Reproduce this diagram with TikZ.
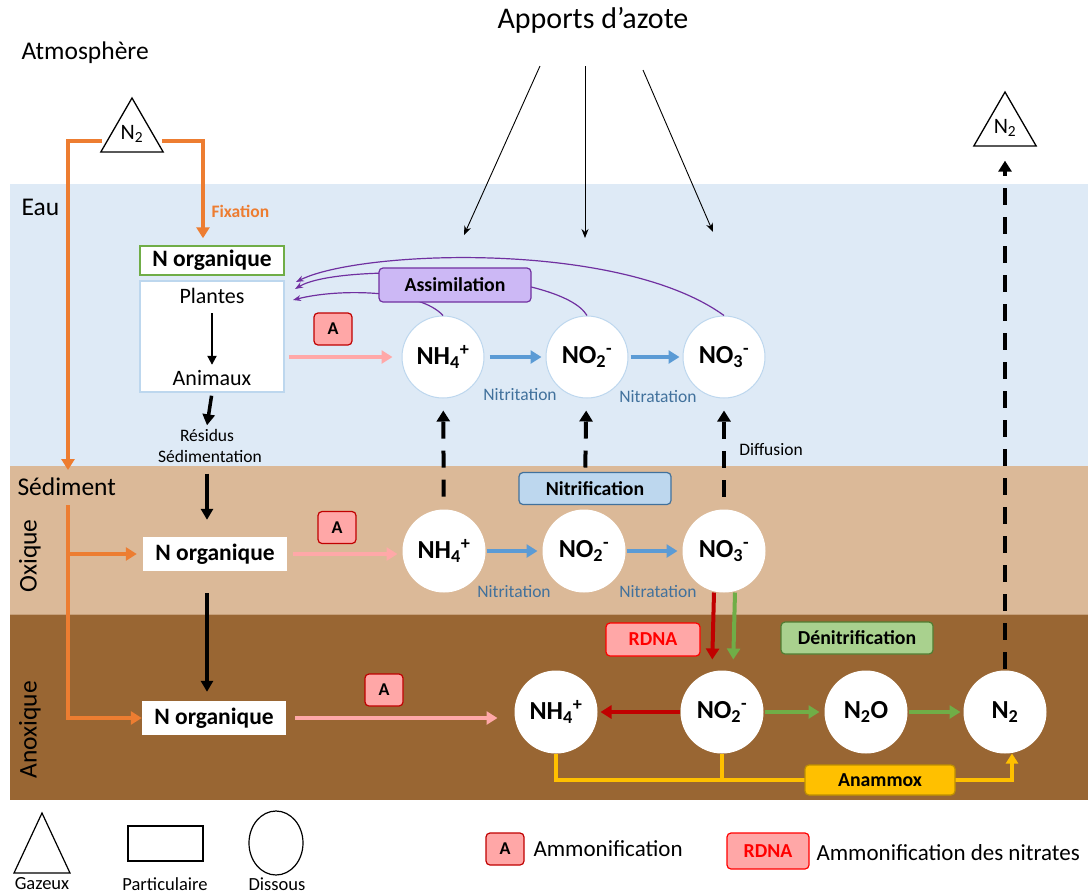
\documentclass[tikz,border=0pt]{standalone}
\usepackage{fontspec}
\setmainfont{Carlito}
\usetikzlibrary{arrows.meta,shapes.geometric,positioning}

\definecolor{eaubleu}{HTML}{DEEAF6}
\definecolor{sedoxi}{HTML}{DBB998}
\definecolor{sedanoxi}{HTML}{996633}
\definecolor{orangefix}{HTML}{ED7D31}
\definecolor{bordbleu}{HTML}{BDD7EE}
\definecolor{flechebleu}{HTML}{5B9BD5}
\definecolor{textebleu}{HTML}{41719C}
\definecolor{roseA}{HTML}{FFA7A7}
\definecolor{roseflèche}{HTML}{FFA8A8}
\definecolor{rougefonce}{HTML}{C00000}
\definecolor{vertden}{HTML}{70AD47}
\definecolor{vertboite}{HTML}{A9D18E}
\definecolor{vertbord}{HTML}{507E32}
\definecolor{assimviolet}{HTML}{7030A0}
\definecolor{assimclair}{HTML}{CCB8F5}
\definecolor{jauneanam}{HTML}{FFC000}
\definecolor{jaunebord}{HTML}{BF9000}

\newcommand{\taille}[1]{\fontsize{#1}{#1}\selectfont}
\newcommand{\ammonium}{NH\textsubscript{4}\textsuperscript{+}}
\newcommand{\nitrite}{NO\textsubscript{2}\textsuperscript{-}}
\newcommand{\nitrate}{NO\textsubscript{3}\textsuperscript{-}}
\newcommand{\protoxyde}{N\textsubscript{2}O}
\newcommand{\diazote}{N\textsubscript{2}}

\begin{document}
\begin{tikzpicture}[x=1pt, y=-1pt,
    boite/.style={rounded corners=4pt, line width=1.2pt, font=\taille{19.8}\bfseries,
      minimum width=152pt, minimum height=32pt, inner sep=0pt},
    ammon/.style={draw=rougefonce, fill=roseA, rounded corners=4pt, line width=1.2pt,
      font=\taille{18}\bfseries, minimum width=38pt, minimum height=32pt, inner sep=0pt},
    dissous/.style={circle, fill=white, line width=1pt, minimum size=82pt, inner sep=0pt,
      font=\taille{26}\bfseries},
    norg/.style={fill=white, minimum width=144pt, minimum height=34pt, inner sep=0pt,
      font=\taille{23.5}\bfseries},
    gaz/.style={regular polygon, regular polygon sides=3, draw, fill=white, line width=1.3pt,
      minimum size=72pt, inner sep=0pt, font=\taille{22}},
    fix/.style={orangefix, line width=4pt, -{Triangle[length=11pt,width=13pt]}},
    noir/.style={line width=3.5pt, -{Triangle[length=11pt,width=12pt]}},
    diff/.style={line width=4pt, dash pattern=on 17pt off 12pt, -{Triangle[length=11pt,width=13pt]}},
    bleufl/.style={flechebleu, line width=4pt, -{Triangle[length=11pt,width=13pt]}},
    rosefl/.style={roseflèche, line width=4pt, -{Triangle[length=11pt,width=13pt]}},
    rougefl/.style={rougefonce, line width=4pt, -{Triangle[length=11pt,width=13pt]}},
    vertfl/.style={vertden, line width=4pt, -{Triangle[length=11pt,width=13pt]}},
    jaunefl/.style={jauneanam, line width=3.5pt},
    assim/.style={assimviolet, line width=1.2pt, -{Stealth[length=8pt,width=6pt]}},
    proc/.style={text=textebleu, font=\taille{17.5}},
    titre/.style={font=\taille{25.5}},
    legende/.style={font=\taille{18.5}, inner sep=0pt}]
  \useasboundingbox (0,0) rectangle (1088,895);

  % Couches : eau, sediment oxique, sediment anoxique
  \fill[eaubleu] (10,184) rectangle (1088,466);
  \fill[sedoxi] (10,466) rectangle (1088,614);
  \fill[sedanoxi] (10,614) rectangle (1088,800);
  \draw[sedoxi!70!sedanoxi, line width=1pt] (10,614) -- (1088,614);

  % Titres
  \node[font=\taille{30}] (apports) at (593,20) {Apports d’azote};
  \node[titre, anchor=west] (atmo) at (18,53) {Atmosphère};
  \node[titre, anchor=west] (eau) at (18,207) {Eau};
  \node[titre, anchor=west] (sediment) at (14,487) {Sédiment};
  \node[titre, rotate=90] (oxique) at (30,556) {Oxique};
  \node[titre, rotate=90] (anoxique) at (30,730) {Anoxique};

  % Apports d'azote
  \coordinate (app1) at (540,66);
  \coordinate (app2) at (585,66);
  \coordinate (app3) at (643,70);
  \coordinate (cible1) at (464,235);
  \coordinate (cible2) at (585,238);
  \coordinate (cible3) at (713,232);
  \foreach \i in {1,2,3}
    \draw[line width=0.9pt, -{Stealth[length=9pt,width=7pt]}] (app\i) -- (cible\i);

  % Diazote atmospherique
  \node[gaz] (n2atm) at (132,134) {\diazote};
  \node[gaz] (n2atmd) at (1005,128) {\diazote};
  \path (n2atm.corner 1) -- (n2atm.corner 2) coordinate[pos=0.8] (bordG);
  \path (n2atm.corner 1) -- (n2atm.corner 3) coordinate[pos=0.8] (bordD);

  % Compartiment organique
  \node[norg, draw=vertden, line width=1.5pt, minimum height=29pt] (norgeau) at (212,260.5) {N organique};
  \node[draw=bordbleu, fill=white, line width=1.5pt, minimum width=144pt, minimum height=111pt] (vivant) at (212,336.5) {};
  \node[font=\taille{22}] (plantes) at (212,296) {Plantes};
  \node[font=\taille{22}] (animaux) at (212,378) {Animaux};
  \node[font=\taille{17.5}] (residus) at (207,435) {Résidus};
  \node[font=\taille{17.5}] (sedim) at (210,456) {Sédimentation};
  \node[norg] (norgox) at (215,554) {N organique};
  \node[norg] (norgan) at (214,718) {N organique};

  \draw[line width=2pt, -{Triangle[length=9pt,width=9pt]}, shorten <=6pt, shorten >=2pt] (plantes) -- (animaux);
  \draw[noir, shorten <=3pt] (vivant.south) -- (residus.north);
  \draw[noir, shorten <=8pt, shorten >=17pt] ([xshift=-8pt]norgox.north |- sedim.south) -- ([xshift=-8pt]norgox.north);
  \draw[noir, shorten <=22pt, shorten >=9pt] ([xshift=-8pt]norgox.south) -- ([xshift=-8pt]norgox.south |- norgan.north);

  % Fixation
  \coordinate (arriveesed) at (68,470);
  \coordinate (departsed) at (68,505);
  \draw[fix, shorten <=4pt] (bordG) -| (arriveesed);
  \draw[fix, shorten <=4pt, shorten >=7pt] (bordD) -| ([xshift=-9pt]norgeau.north);
  \node[font=\taille{17.5}\bfseries, text=orangefix, anchor=west] (fixation) at (208,211) {Fixation};
  \draw[fix] (departsed) |- (norgan.west);
  \draw[fix, shorten >=6pt] (departsed |- norgox.west) -- (norgox.west);

  % Formes dissoutes
  \foreach \nom/\x/\chimie in {nh4e/443/\ammonium, no2e/587/\nitrite, no3e/724/\nitrate}
    \node[dissous, draw=bordbleu] (\nom) at (\x,357) {\chimie};
  \foreach \nom/\x/\chimie in {nh4o/444/\ammonium, no2o/584/\nitrite, no3o/724/\nitrate}
    \node[dissous, draw=white] (\nom) at (\x,551) {\chimie};
  \foreach \nom/\x/\chimie in {nh4a/556/\ammonium, no2a/722/\nitrite, n2oa/866/\protoxyde, n2a/1005/\diazote}
    \node[dissous, draw=white] (\nom) at (\x,712) {\chimie};

  % Ammonification
  \draw[rosefl, shorten <=4pt, shorten >=9pt] (vivant.east |- nh4e) -- (nh4e.west);
  \draw[rosefl, shorten <=6pt, shorten >=5pt] (norgox.east) -- (norgox.east -| nh4o.west);
  \draw[rosefl, shorten <=9pt, shorten >=17pt] (norgan.east) -- (norgan.east -| nh4a.west);
  \node[ammon] (aeau) at (333,329) {A};
  \node[ammon] (aox) at (337,527.5) {A};
  \node[ammon] (aan) at (384,690) {A};

  % Nitrification
  \draw[bleufl, shorten <=5pt, shorten >=4pt] (nh4e) -- (no2e);
  \draw[bleufl, shorten <=2pt, shorten >=3pt] (no2e) -- (no3e);
  \draw[bleufl, shorten <=1pt, shorten >=5pt] (nh4o) -- (no2o);
  \draw[bleufl, shorten <=1pt, shorten >=5pt] (no2o) -- (no3o);
  \node[proc] (nitrit1) at (520,395) {Nitritation};
  \node[proc] (nitrat1) at (658,397) {Nitratation};
  \node[proc] (nitrit2) at (514,592) {Nitritation};
  \node[proc] (nitrat2) at (658,592) {Nitratation};

  % Diffusion
  \foreach \bas/\haut in {nh4o/nh4e, no2o/no2e, no3o/no3e}
    \draw[diff, shorten <=13pt, shorten >=12pt] (\bas) -- (\haut);
  \node[font=\taille{17.5}] (diffusion) at (771,450) {Diffusion};
  \node[boite, draw=textebleu, fill=bordbleu] (nitrification) at (595,488.5) {Nitrification};

  % Assimilation
  \draw[assim] (nh4e.north) .. controls (420,290) and (340,288) .. (293,300);
  \draw[assim] (no2e.north) .. controls (560,270) and (340,262) .. (295,289);
  \draw[assim] (no3e.north) .. controls (620,240) and (360,250) .. (296,282);
  \node[boite, draw=assimviolet, fill=assimclair, minimum height=34pt] (assimilation) at (455,285) {Assimilation};

  % RDNA et denitrification
  \draw[rougefl, shorten >=11pt] ([xshift=-10pt]no3o.south) -- ([xshift=-10pt]no2a.north);
  \draw[vertfl, shorten >=11pt] ([xshift=11pt]no3o.south) -- ([xshift=11pt]no2a.north);
  \draw[rougefl, shorten <=1pt, shorten >=3pt] (no2a) -- (nh4a);
  \draw[vertfl, shorten <=1pt, shorten >=5pt] (no2a) -- (n2oa);
  \draw[vertfl, shorten <=1pt, shorten >=3pt] (n2oa) -- (n2a);
  \node[boite, draw=red, fill=roseA, text=red, minimum width=94pt, minimum height=33pt] (rdna) at (653,639.5) {RDNA};
  \node[boite, draw=vertbord, fill=vertboite] (denitrification) at (857,638) {Dénitrification};

  % Anammox
  \draw[jaunefl] (nh4a.south) |- (880,780);
  \draw[jaunefl] (no2a.south) -- (no2a.south |- 880,780);
  \draw[jaunefl, -{Triangle[length=10pt,width=12pt]}] (880,780) -| ([xshift=7pt]n2a.south);
  \node[boite, draw=jaunebord, fill=jauneanam, minimum width=150pt, minimum height=30pt] (anammox) at (880,780) {Anammox};

  % Degazage
  \draw[diff, shorten <=2pt, shorten >=14pt] (n2a.north) -- (n2a.north |- n2atmd.south);

  % Legende
  \draw[line width=1.2pt] (42,813) -- (70,873) -- (14,873) -- cycle;
  \draw[line width=1.2pt] (128,826) rectangle (203,861);
  \draw[line width=1.2pt] (276,843) ellipse [x radius=27pt, y radius=32pt];
  \node[legende] (gazeux) at (42,884) {Gazeux};
  \node[legende] (particulaire) at (165,884) {Particulaire};
  \node[legende] (dissous) at (277,884) {Dissous};
  \node[ammon] (legA) at (505,849) {A};
  \node[font=\taille{23}, anchor=west] (legAtxt) at (530,849) {Ammonification};
  \node[boite, draw=red, fill=roseA, text=red, minimum width=82pt, minimum height=36pt] (legR) at (768,851) {RDNA};
  \node[font=\taille{23}, anchor=west] (legRtxt) at (813,853) {Ammonification des nitrates};
\end{tikzpicture}
\end{document}
